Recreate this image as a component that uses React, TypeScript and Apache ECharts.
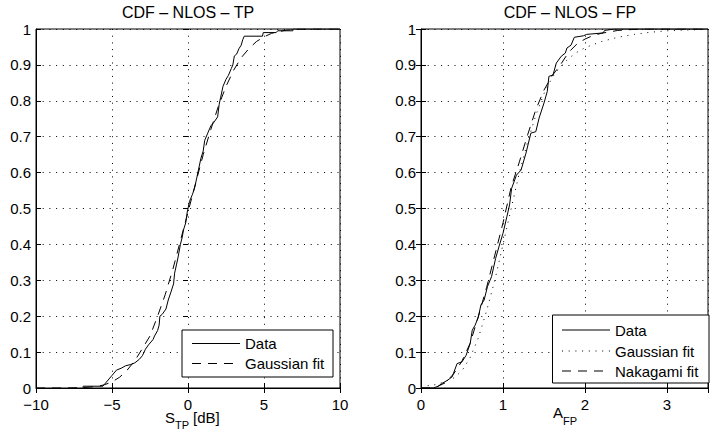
import React, { useEffect, useRef } from "react";
import * as echarts from "echarts";

// ---------- data ----------
// Left panel: CDF of S_TP [dB]
const tpData: [number, number][] = [
  [-6.9, 0], [-6.9, 0.005], [-5.6, 0.005], [-5.5, 0.01], [-5.2, 0.025], [-5.0, 0.035],
  [-4.7, 0.05], [-4.4, 0.055], [-4.1, 0.062], [-3.8, 0.065], [-3.5, 0.07], [-3.2, 0.08],
  [-3.0, 0.09], [-2.8, 0.108], [-2.6, 0.12], [-2.3, 0.135], [-2.2, 0.145], [-2.0, 0.16],
  [-1.9, 0.175], [-1.85, 0.2], [-1.7, 0.205], [-1.45, 0.22], [-1.3, 0.245], [-1.1, 0.27],
  [-0.95, 0.29], [-0.88, 0.32], [-0.75, 0.345], [-0.65, 0.365], [-0.5, 0.4], [-0.38, 0.42],
  [-0.3, 0.44], [-0.15, 0.46], [-0.05, 0.49], [0.1, 0.52], [0.3, 0.54], [0.45, 0.56],
  [0.6, 0.59], [0.7, 0.61], [0.85, 0.64], [1.0, 0.66], [1.1, 0.69], [1.3, 0.71],
  [1.5, 0.73], [1.7, 0.74], [1.95, 0.755], [2.05, 0.79], [2.15, 0.81], [2.3, 0.84],
  [2.5, 0.86], [2.65, 0.87], [2.85, 0.89], [2.95, 0.9], [3.05, 0.925], [3.2, 0.93],
  [3.35, 0.945], [3.5, 0.955], [3.6, 0.97], [3.7, 0.98], [4.9, 0.98], [4.95, 0.99],
  [5.8, 0.99], [5.9, 0.995], [6.9, 0.995], [6.9, 1.0], [10, 1.0],
];
const tpGauss: [number, number][] = [
  [-10, 0], [-8, 0], [-7, 0.001], [-6, 0.004], [-5.5, 0.009], [-5, 0.017], [-4.5, 0.03],
  [-4, 0.05], [-3.5, 0.076], [-3, 0.11], [-2.5, 0.145], [-2, 0.2], [-1.5, 0.26],
  [-1, 0.33], [-0.5, 0.41], [0, 0.49], [0.5, 0.57], [1, 0.65], [1.5, 0.72], [2, 0.785],
  [2.5, 0.84], [3, 0.885], [3.5, 0.92], [4, 0.945], [4.5, 0.965], [5, 0.978],
  [5.5, 0.988], [6, 0.993], [6.5, 0.997], [7, 0.999], [8, 1], [10, 1],
];

// Right panel: CDF of A_FP
const fpData: [number, number][] = [
  [0, 0], [0.15, 0], [0.21, 0.005], [0.25, 0.012], [0.32, 0.021], [0.38, 0.031],
  [0.44, 0.068], [0.5, 0.073], [0.55, 0.091], [0.6, 0.124], [0.625, 0.161], [0.66, 0.175],
  [0.7, 0.198], [0.73, 0.231], [0.77, 0.245], [0.81, 0.282], [0.86, 0.31], [0.91, 0.361],
  [0.95, 0.393], [1.0, 0.431], [1.047, 0.477], [1.08, 0.51], [1.105, 0.556],
  [1.164, 0.593], [1.22, 0.607], [1.28, 0.654], [1.34, 0.71], [1.4, 0.714],
  [1.44, 0.752], [1.5, 0.794], [1.54, 0.826], [1.56, 0.868], [1.61, 0.872],
  [1.65, 0.905], [1.71, 0.924], [1.76, 0.933], [1.78, 0.947], [1.83, 0.955],
  [1.87, 0.977], [1.98, 0.981], [2.02, 0.985], [2.22, 0.989], [2.24, 0.996],
  [2.36, 1.0], [3.5, 1.0],
];
const fpGauss: [number, number][] = [
  [0, 0.004], [0.2, 0.01], [0.4, 0.028], [0.5, 0.048], [0.6, 0.085], [0.7, 0.14],
  [0.8, 0.215], [0.9, 0.3], [1.0, 0.4], [1.1, 0.5], [1.2, 0.6], [1.3, 0.685],
  [1.4, 0.76], [1.5, 0.82], [1.6, 0.865], [1.7, 0.895], [1.8, 0.918], [1.9, 0.935],
  [2.0, 0.948], [2.2, 0.965], [2.4, 0.977], [2.6, 0.985], [2.8, 0.991], [3.0, 0.995],
  [3.2, 0.997], [3.5, 0.999],
];
const fpNakagami: [number, number][] = [
  [0, 0], [0.1, 0], [0.2, 0.004], [0.3, 0.015], [0.4, 0.04], [0.5, 0.075], [0.6, 0.125],
  [0.7, 0.2], [0.8, 0.28], [0.9, 0.37], [1.0, 0.46], [1.1, 0.56], [1.2, 0.63],
  [1.3, 0.705], [1.4, 0.775], [1.5, 0.83], [1.6, 0.87], [1.7, 0.9], [1.8, 0.935],
  [1.9, 0.958], [2.0, 0.972], [2.1, 0.982], [2.2, 0.988], [2.4, 0.996], [2.6, 0.999],
  [2.8, 1], [3.5, 1],
];

const titles = ["CDF \u2013 NLOS \u2013 TP", "CDF \u2013 NLOS \u2013 FP"];
const leftLegend = ["Data", "Gaussian fit"];
const rightLegend = ["Data", "Gaussian fit", "Nakagami fit"];

const FONT = "'Liberation Sans', Arial, Helvetica, sans-serif";
const DOT: number[] = [1, 5.7];
const DASH: number[] = [9, 7];

function mainX(gridIndex: number, min: number, max: number, interval: number, fmt: (v: number) => string) {
  return {
    type: "value", gridIndex, min, max, interval, position: "bottom",
    axisLine: { show: true, onZero: false, lineStyle: { color: "#000", width: 1 } },
    axisTick: { show: true, inside: true, length: 5, lineStyle: { color: "#000" } },
    axisLabel: { color: "#000", fontSize: 15, lineHeight: 12, fontFamily: FONT, margin: 10, formatter: fmt },
    splitLine: { show: true, lineStyle: { color: "#000", width: 1, type: DOT } },
  };
}
function mirrorX(gridIndex: number, min: number, max: number, interval: number) {
  return {
    type: "value", gridIndex, min, max, interval, position: "top",
    axisLine: { show: false }, axisLabel: { show: false }, splitLine: { show: false },
    axisTick: { show: true, inside: true, length: 5, lineStyle: { color: "#000" } },
  };
}
const yFmt = (v: number) => String(Math.round(v * 10) / 10);
function mainY(gridIndex: number) {
  return {
    type: "value", gridIndex, min: 0, max: 1, interval: 0.1, position: "left",
    axisLine: { show: true, onZero: false, lineStyle: { color: "#000", width: 1 } },
    axisTick: { show: true, inside: true, length: 5, lineStyle: { color: "#000" } },
    axisLabel: { color: "#000", fontSize: 15, lineHeight: 12, fontFamily: FONT, margin: 5, formatter: yFmt },
    splitLine: { show: true, lineStyle: { color: "#000", width: 1, type: DOT } },
  };
}
function mirrorY(gridIndex: number) {
  return {
    type: "value", gridIndex, min: 0, max: 1, interval: 0.1, position: "right",
    axisLine: { show: false }, axisLabel: { show: false }, splitLine: { show: false },
    axisTick: { show: true, inside: true, length: 5, lineStyle: { color: "#000" } },
  };
}
function lineSeries(name: string, data: [number, number][], xi: number, yi: number, type: any, z: number) {
  return {
    name, type: "line", data, xAxisIndex: xi, yAxisIndex: yi, symbol: "none", showSymbol: false,
    lineStyle: { color: "#000", width: 1, type }, z, silent: true,
  };
}
function txt(text: string, x: number, y: number, size: number, align: string = "left") {
  return {
    type: "text", z: 100,
    style: { text, x, y, fill: "#000", font: `${size}px ${FONT}`, textAlign: align, textVerticalAlign: "middle" },
  };
}
function legLine(x1: number, x2: number, y: number, dash: any) {
  return {
    type: "line", z: 100,
    shape: { x1, y1: y, x2, y2: y },
    style: { stroke: "#000", lineWidth: 1, lineDash: dash },
  };
}

export default function App() {
  const ref = useRef<HTMLDivElement>(null);
  useEffect(() => {
    document.body.style.margin = "0";
    if (!ref.current) return;
    const chart = echarts.init(ref.current, undefined, { renderer: "svg" });
    const leftFmt = (v: number) => (v < 0 ? "\u2212" + Math.abs(v) : String(v));
    const rightFmt = (v: number) => (Number.isInteger(v) ? String(v) : "");
    chart.setOption({
      animation: false,
      backgroundColor: "#fff",
      grid: [
        { left: 36, top: 29, width: 304, height: 359, show: true, borderColor: "#000", borderWidth: 1 },
        { left: 421, top: 29, width: 298.6, height: 359, show: true, borderColor: "#000", borderWidth: 1 },
      ],
      xAxis: [
        mainX(0, -10, 10, 5, leftFmt),
        mirrorX(0, -10, 10, 5),
        mainX(1, 0, 3.5, 1, rightFmt),
        mirrorX(1, 0, 3.5, 1),
      ],
      yAxis: [mainY(0), mirrorY(0), mainY(1), mirrorY(1)],
      series: [
        lineSeries("Gaussian fit", tpGauss, 0, 0, DASH, 3),
        lineSeries("Data", tpData, 0, 0, "solid", 4),
        lineSeries("Gaussian fit ", fpGauss, 2, 2, DOT, 3),
        lineSeries("Nakagami fit", fpNakagami, 2, 2, DASH, 3),
        lineSeries("Data ", fpData, 2, 2, "solid", 4),
      ],
      graphic: [
        txt(titles[0], 188, 12, 16, "center"),
        txt(titles[1], 570, 12, 16, "center"),
        // axis names with subscripts
        txt("S", 165, 417, 15),
        txt("TP", 175, 425, 11),
        txt("[dB]", 193, 417, 15),
        txt("A", 553, 412, 15),
        txt("FP", 563, 421, 11),
        // left legend
        { type: "rect", z: 99, shape: { x: 182, y: 330, width: 151, height: 47 }, style: { fill: "#fff", stroke: "#000", lineWidth: 1 } },
        legLine(192, 240, 343.5, "solid"),
        legLine(192, 240, 363.5, DASH),
        txt(leftLegend[0], 245, 343.5, 15),
        txt(leftLegend[1], 245, 363.5, 15),
        // right legend
        { type: "rect", z: 99, shape: { x: 552.5, y: 315, width: 156.5, height: 68 }, style: { fill: "#fff", stroke: "#000", lineWidth: 1 } },
        legLine(562, 610, 330, "solid"),
        legLine(562, 610, 351, DOT),
        legLine(562, 610, 371, DASH),
        txt(rightLegend[0], 615, 330, 15),
        txt(rightLegend[1], 615, 351, 15),
        txt(rightLegend[2], 615, 371, 15),
      ],
    });
    return () => chart.dispose();
  }, []);
  return <div ref={ref} style={{ width: 711, height: 435 }} />;
}
